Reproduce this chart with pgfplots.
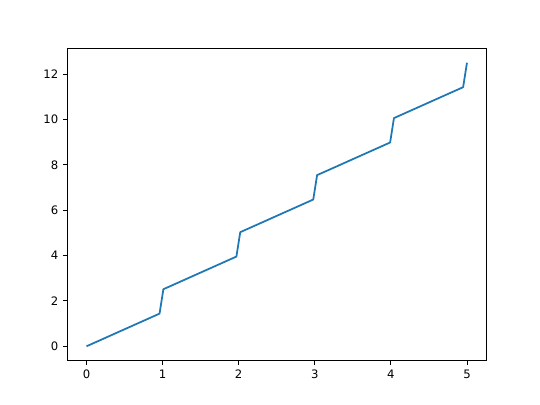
\documentclass[border=0pt]{standalone}
\usepackage{pgfplots}
\pgfplotsset{compat=1.18}
\usepackage{fontspec}
\setmainfont{DejaVu Sans}
\definecolor{mplblue}{HTML}{1F77B4}
\begin{document}
\fontsize{11.7}{14}\selectfont
\begin{tikzpicture}
\path[use as bounding box] (0,0) rectangle (540bp,405bp);
\begin{axis}[
  at={(67.5bp,44.55bp)}, anchor=south west,
  scale only axis, width=418.5bp, height=311.85bp,
  xmin=-0.25, xmax=5.25, ymin=-0.625, ymax=13.125,
  xtick={0,1,2,3,4,5}, ytick={0,2,4,6,8,10,12},
  xtick pos=left, ytick pos=left,
  tick align=outside, major tick length=4.1bp,
  tick style={black, line width=0.94bp},
  axis line style={line width=0.94bp},
  every tick label/.append style={font=\fontsize{11.7}{14}\selectfont},
  /pgf/number format/assume math mode=true,
  xticklabel style={yshift=-1bp},
  yticklabel style={xshift=-1bp},
]
\addplot[mplblue, line width=1.76bp, line join=round] coordinates {
(0,0) (0.9596,1.4394) (1.0101,2.5152) (1.9697,3.9545) (2.0202,5.0303) (2.9798,6.4697) (3.0303,7.5455) (3.9899,8.9848) (4.0404,10.0606) (4.9495,11.4242) (5,12.5)
};
\end{axis}
\end{tikzpicture}
\end{document}
